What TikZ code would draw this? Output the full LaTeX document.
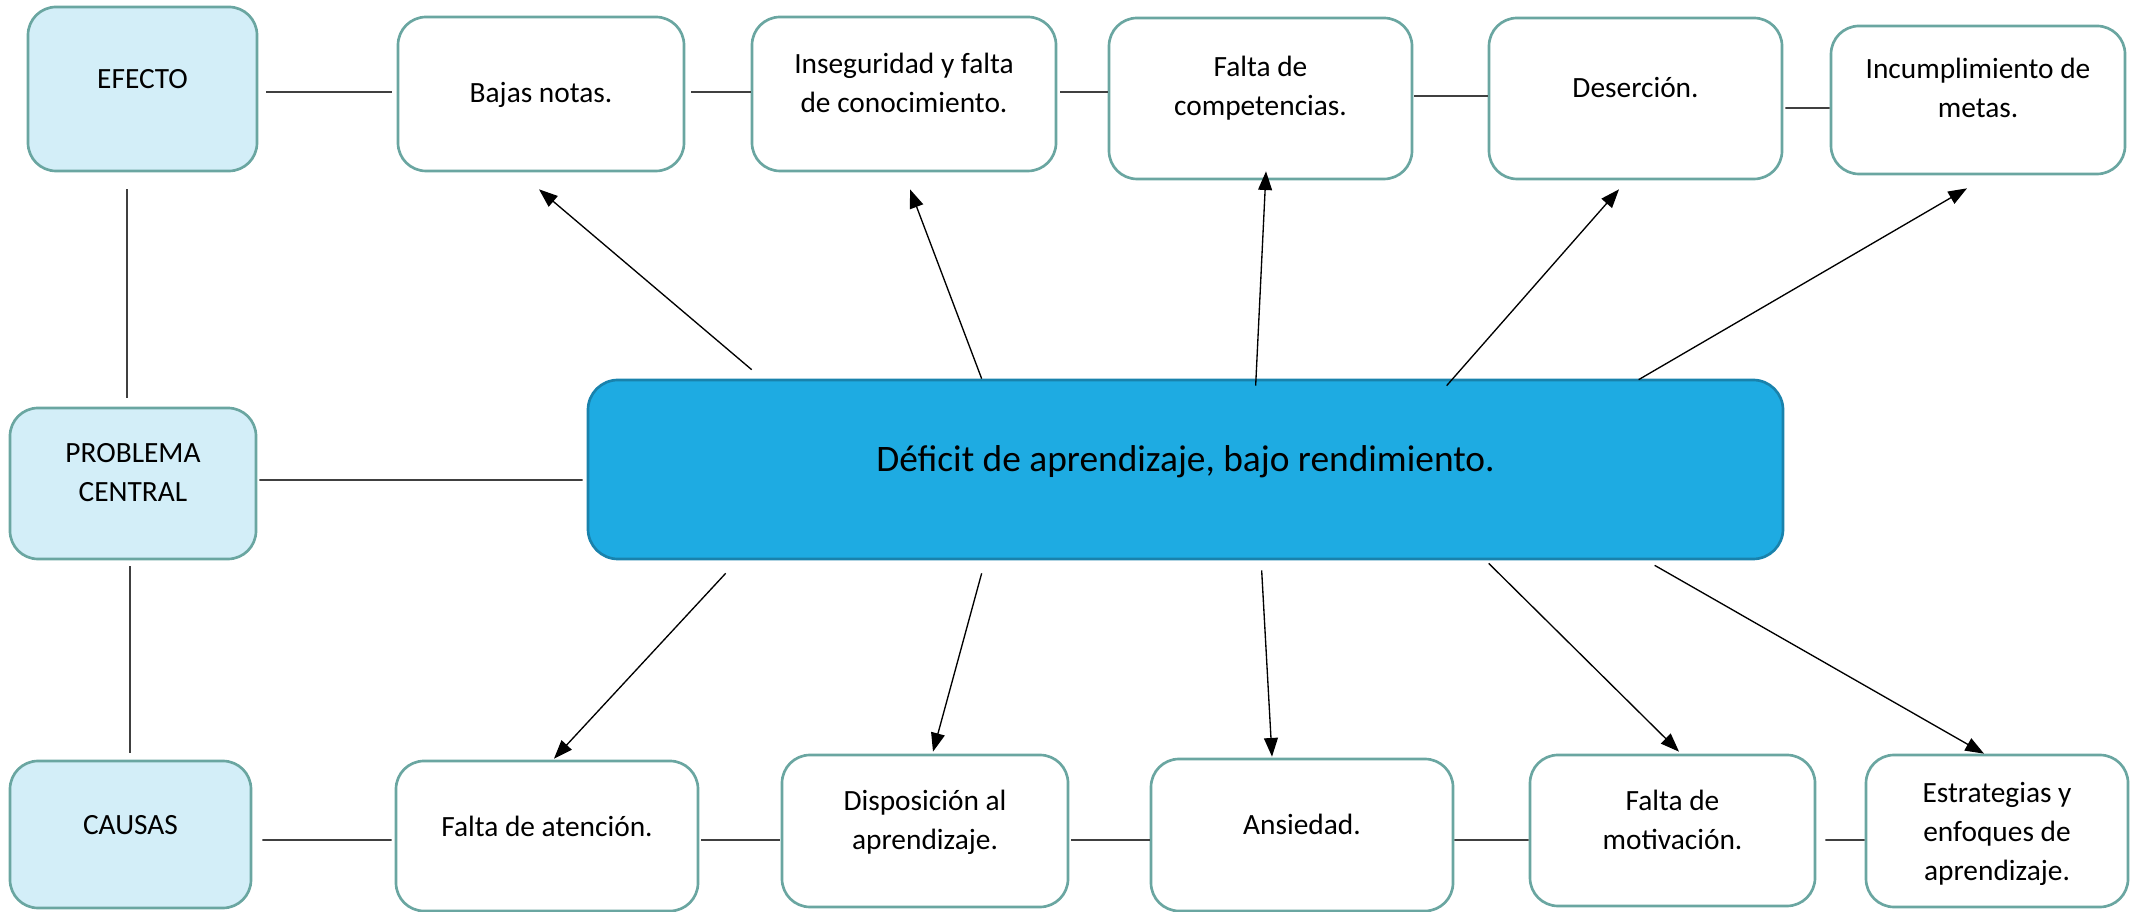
\documentclass[tikz,border=0pt]{standalone}
\usepackage{fontspec}
\setmainfont{Carlito}
\usetikzlibrary{calc,arrows.meta}
\definecolor{tealb}{RGB}{106,166,161}
\definecolor{lightb}{RGB}{211,238,248}
\definecolor{mainb}{RGB}{30,171,226}
\definecolor{mainbd}{RGB}{25,130,172}
\definecolor{conncol}{RGB}{64,64,64}
\begin{document}
\begin{tikzpicture}[x=0.3745pt,y=-0.3745pt,
  box/.style={draw=tealb, line width=1pt, rounded corners=10.5pt, fill=white, inner sep=0pt},
  hdr/.style={box, fill=lightb},
  txt/.style={anchor=north, inner sep=0pt, align=center, font=\fontsize{11}{14.6}\selectfont},
  link/.style={draw=conncol, line width=0.6pt},
  arr/.style={draw=black, line width=0.5pt, -{Triangle[length=7pt,width=5.2pt]}}
]
\useasboundingbox (0,0) rectangle (2131,912);

% top row
\node[hdr, minimum width=85.76pt, minimum height=61.42pt] (efecto) at (142.5,89) {};
\node[box, minimum width=107.11pt, minimum height=57.67pt] (bajas) at (541,94) {};
\node[box, minimum width=113.85pt, minimum height=57.67pt] (inseg) at (904,94) {};
\node[box, minimum width=113.47pt, minimum height=60.29pt] (faltacomp) at (1260.5,98.5) {};
\node[box, minimum width=109.73pt, minimum height=60.29pt] (desercion) at (1635.5,98.5) {};
\node[box, minimum width=110.10pt, minimum height=55.43pt] (incumpl) at (1978,100) {};

% middle
\node[hdr, minimum width=92.13pt, minimum height=56.55pt] (problema) at (133,483.5) {};
\node[draw=mainbd, fill=mainb, line width=1pt, rounded corners=11.2pt, inner sep=0pt,
      minimum width=447.53pt, minimum height=67.04pt] (deficit) at (1185.5,469.5) {};

% bottom row
\node[hdr, minimum width=90.25pt, minimum height=55.05pt] (causas) at (130.5,834.5) {};
\node[box, minimum width=113.10pt, minimum height=56.18pt] (atencion) at (547,836) {};
\node[box, minimum width=107.11pt, minimum height=56.92pt] (disposicion) at (925,831) {};
\node[box, minimum width=113.10pt, minimum height=56.92pt] (ansiedad) at (1302,835) {};
\node[box, minimum width=106.73pt, minimum height=56.55pt] (motivacion) at (1672.5,830.5) {};
\node[box, minimum width=98.12pt, minimum height=56.92pt] (estrategias) at (1997,831) {};

% texts
\node[txt] (efecto-t) at ($(efecto.north)+(0,55)$) {\strut EFECTO};
\node[txt] (bajas-t) at ($(bajas.north)+(0,59)$) {\strut Bajas notas.};
\node[txt] (inseg-t) at ($(inseg.north)+(0,30)$) {\strut Inseguridad y falta\\de conocimiento.};
\node[txt] (faltacomp-t) at ($(faltacomp.north)+(0,32)$) {\strut Falta de\\competencias.};
\node[txt] (desercion-t) at ($(desercion.north)+(0,53)$) {\strut Deserción.};
\node[txt] (incumpl-t) at ($(incumpl.north)+(0,26)$) {\strut Incumplimiento de\\metas.};
\node[txt] (problema-t) at ($(problema.north)+(0,28)$) {\strut PROBLEMA\\CENTRAL};
\node[anchor=base, inner sep=0pt, font=\fontsize{14}{17}\selectfont] (deficit-t) at ($(deficit.north)+(0,93)$) {Déficit de aprendizaje, bajo rendimiento.};
\node[txt] (causas-t) at ($(causas.north)+(0,47)$) {\strut CAUSAS};
\node[txt] (atencion-t) at ($(atencion.north)+(0,49)$) {\strut Falta de atención.};
\node[txt] (disposicion-t) at ($(disposicion.north)+(0,29)$) {\strut Disposición al\\aprendizaje.};
\node[txt] (ansiedad-t) at ($(ansiedad.north)+(0,49)$) {\strut Ansiedad.};
\node[txt] (motivacion-t) at ($(motivacion.north)+(0,29)$) {\strut Falta de\\motivación.};
\node[txt] (estrategias-t) at ($(estrategias.north)+(0,21)$) {\strut Estrategias y\\enfoques de\\aprendizaje.};

% plain connectors, top row
\draw[link] ($(efecto.east)+(8,3)$) -- ($(bajas.west)+(-5,-2)$);
\draw[link] ($(bajas.east)+(6,-2)$) -- ($(inseg.west)+(0,-2)$);
\draw[link] ($(inseg.east)+(3,-2)$) -- ($(faltacomp.west)+(0,-6.5)$);
\draw[link] ($(faltacomp.east)+(1,-2.5)$) -- ($(desercion.west)+(0,-2.5)$);
\draw[link] ($(desercion.east)+(2,9.5)$) -- ($(incumpl.west)+(0,8)$);
% left column
\draw[link] ($(efecto.south)+(-15.5,17)$) -- ($(problema.north)+(-6,-9)$);
\draw[link] ($(problema.south)+(-3,6)$) -- ($(causas.north)+(-0.5,-7)$);
\draw[link] ($(problema.east)+(2,-3.5)$) -- ($(deficit.west)+(-4,10.5)$);
% bottom row
\draw[link] ($(causas.east)+(10,5.5)$) -- ($(atencion.west)+(-3,4)$);
\draw[link] ($(atencion.east)+(2,4)$) -- ($(disposicion.west)+(-1,9)$);
\draw[link] ($(disposicion.east)+(2,9)$) -- ($(ansiedad.west)+(0,5)$);
\draw[link] ($(ansiedad.east)+(0,5)$) -- ($(motivacion.west)+(0,9.5)$);
\draw[link] ($(motivacion.east)+(9,9.5)$) -- ($(estrategias.west)+(0,9)$);

% arrows to effects
\draw[arr] ($(deficit.north west)+(165,-9)$) -- ($(bajas.south)+(-2,17)$);
\draw[arr] ($(deficit.north west)+(395,0)$) -- ($(inseg.south)+(6,17)$);
\draw[arr] ($(deficit.north west)+(669,7)$) -- ($(faltacomp.south)+(5.5,-9)$);
\draw[arr] ($(deficit.north west)+(860,7)$) -- ($(desercion.south)+(-16.5,9)$);
\draw[arr] ($(deficit.north west)+(1052,1)$) -- ($(incumpl.south)+(-11,13)$);
% arrows to causes
\draw[arr] ($(deficit.south west)+(139,13)$) -- ($(atencion.north)+(7,-1)$);
\draw[arr] ($(deficit.south west)+(395,13)$) -- ($(disposicion.north)+(8,-2)$);
\draw[arr] ($(deficit.south west)+(675,10)$) -- ($(ansiedad.north)+(-30,-1)$);
\draw[arr] ($(deficit.south west)+(902,3)$) -- ($(motivacion.north)+(6.5,-2)$);
\draw[arr] ($(deficit.south west)+(1068,5)$) -- ($(estrategias.north)+(-13,0)$);
\end{tikzpicture}
\end{document}
